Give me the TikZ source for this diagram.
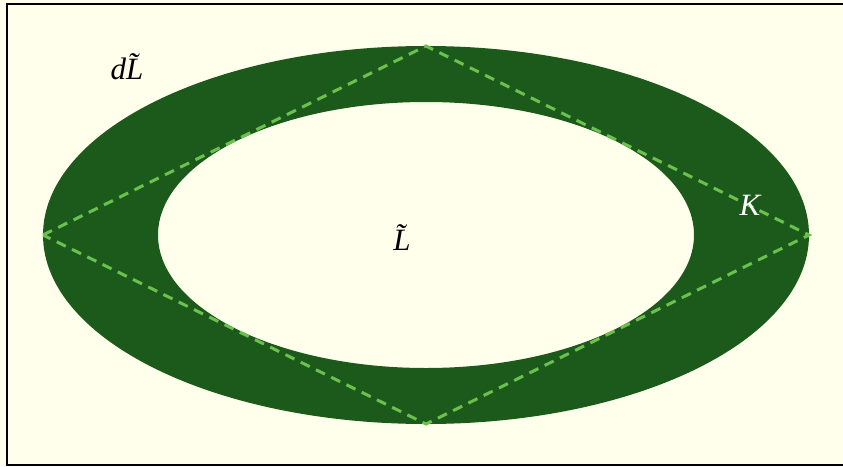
\documentclass[tikz,border=0pt]{standalone}
\usepackage{fontspec}
\setmainfont{Liberation Serif}
\definecolor{bgivory}{HTML}{FFFFEC}
\definecolor{bandgreen}{HTML}{1C5A1C}
\definecolor{dashgreen}{HTML}{6CC04E}
\tikzset{
    lab/.style={font=\fontsize{31}{36}\selectfont\itshape, inner sep=0pt},
}
\begin{document}
\begin{tikzpicture}[x=1pt, y=-1pt]
    % Frame
    \useasboundingbox (0,0) rectangle (843,466);
    \fill[bgivory] (0,0) rectangle (843,466);
    \draw[line width=2pt] (7,4) rectangle (850,465);
    
    % The band between the two ellipses
    \fill[bandgreen, even odd rule] (426,235) ellipse [x radius=383, y radius=189]
        (426,235) ellipse [x radius=268, y radius=133];
    
    % Dashed diamond
    \draw[dashgreen, line width=3pt, dash pattern=on 10pt off 7pt]
        (43,235) -- (426,46) -- (809,235) -- (426,424) -- cycle;
    
    % Labels
    \node[lab] (dl) at (127,67) {d\~{L}};
    \node[lab] (l) at (402,238) {\~{L}};
    \node[lab, white] (k) at (750,205) {K};
\end{tikzpicture}
\end{document}
